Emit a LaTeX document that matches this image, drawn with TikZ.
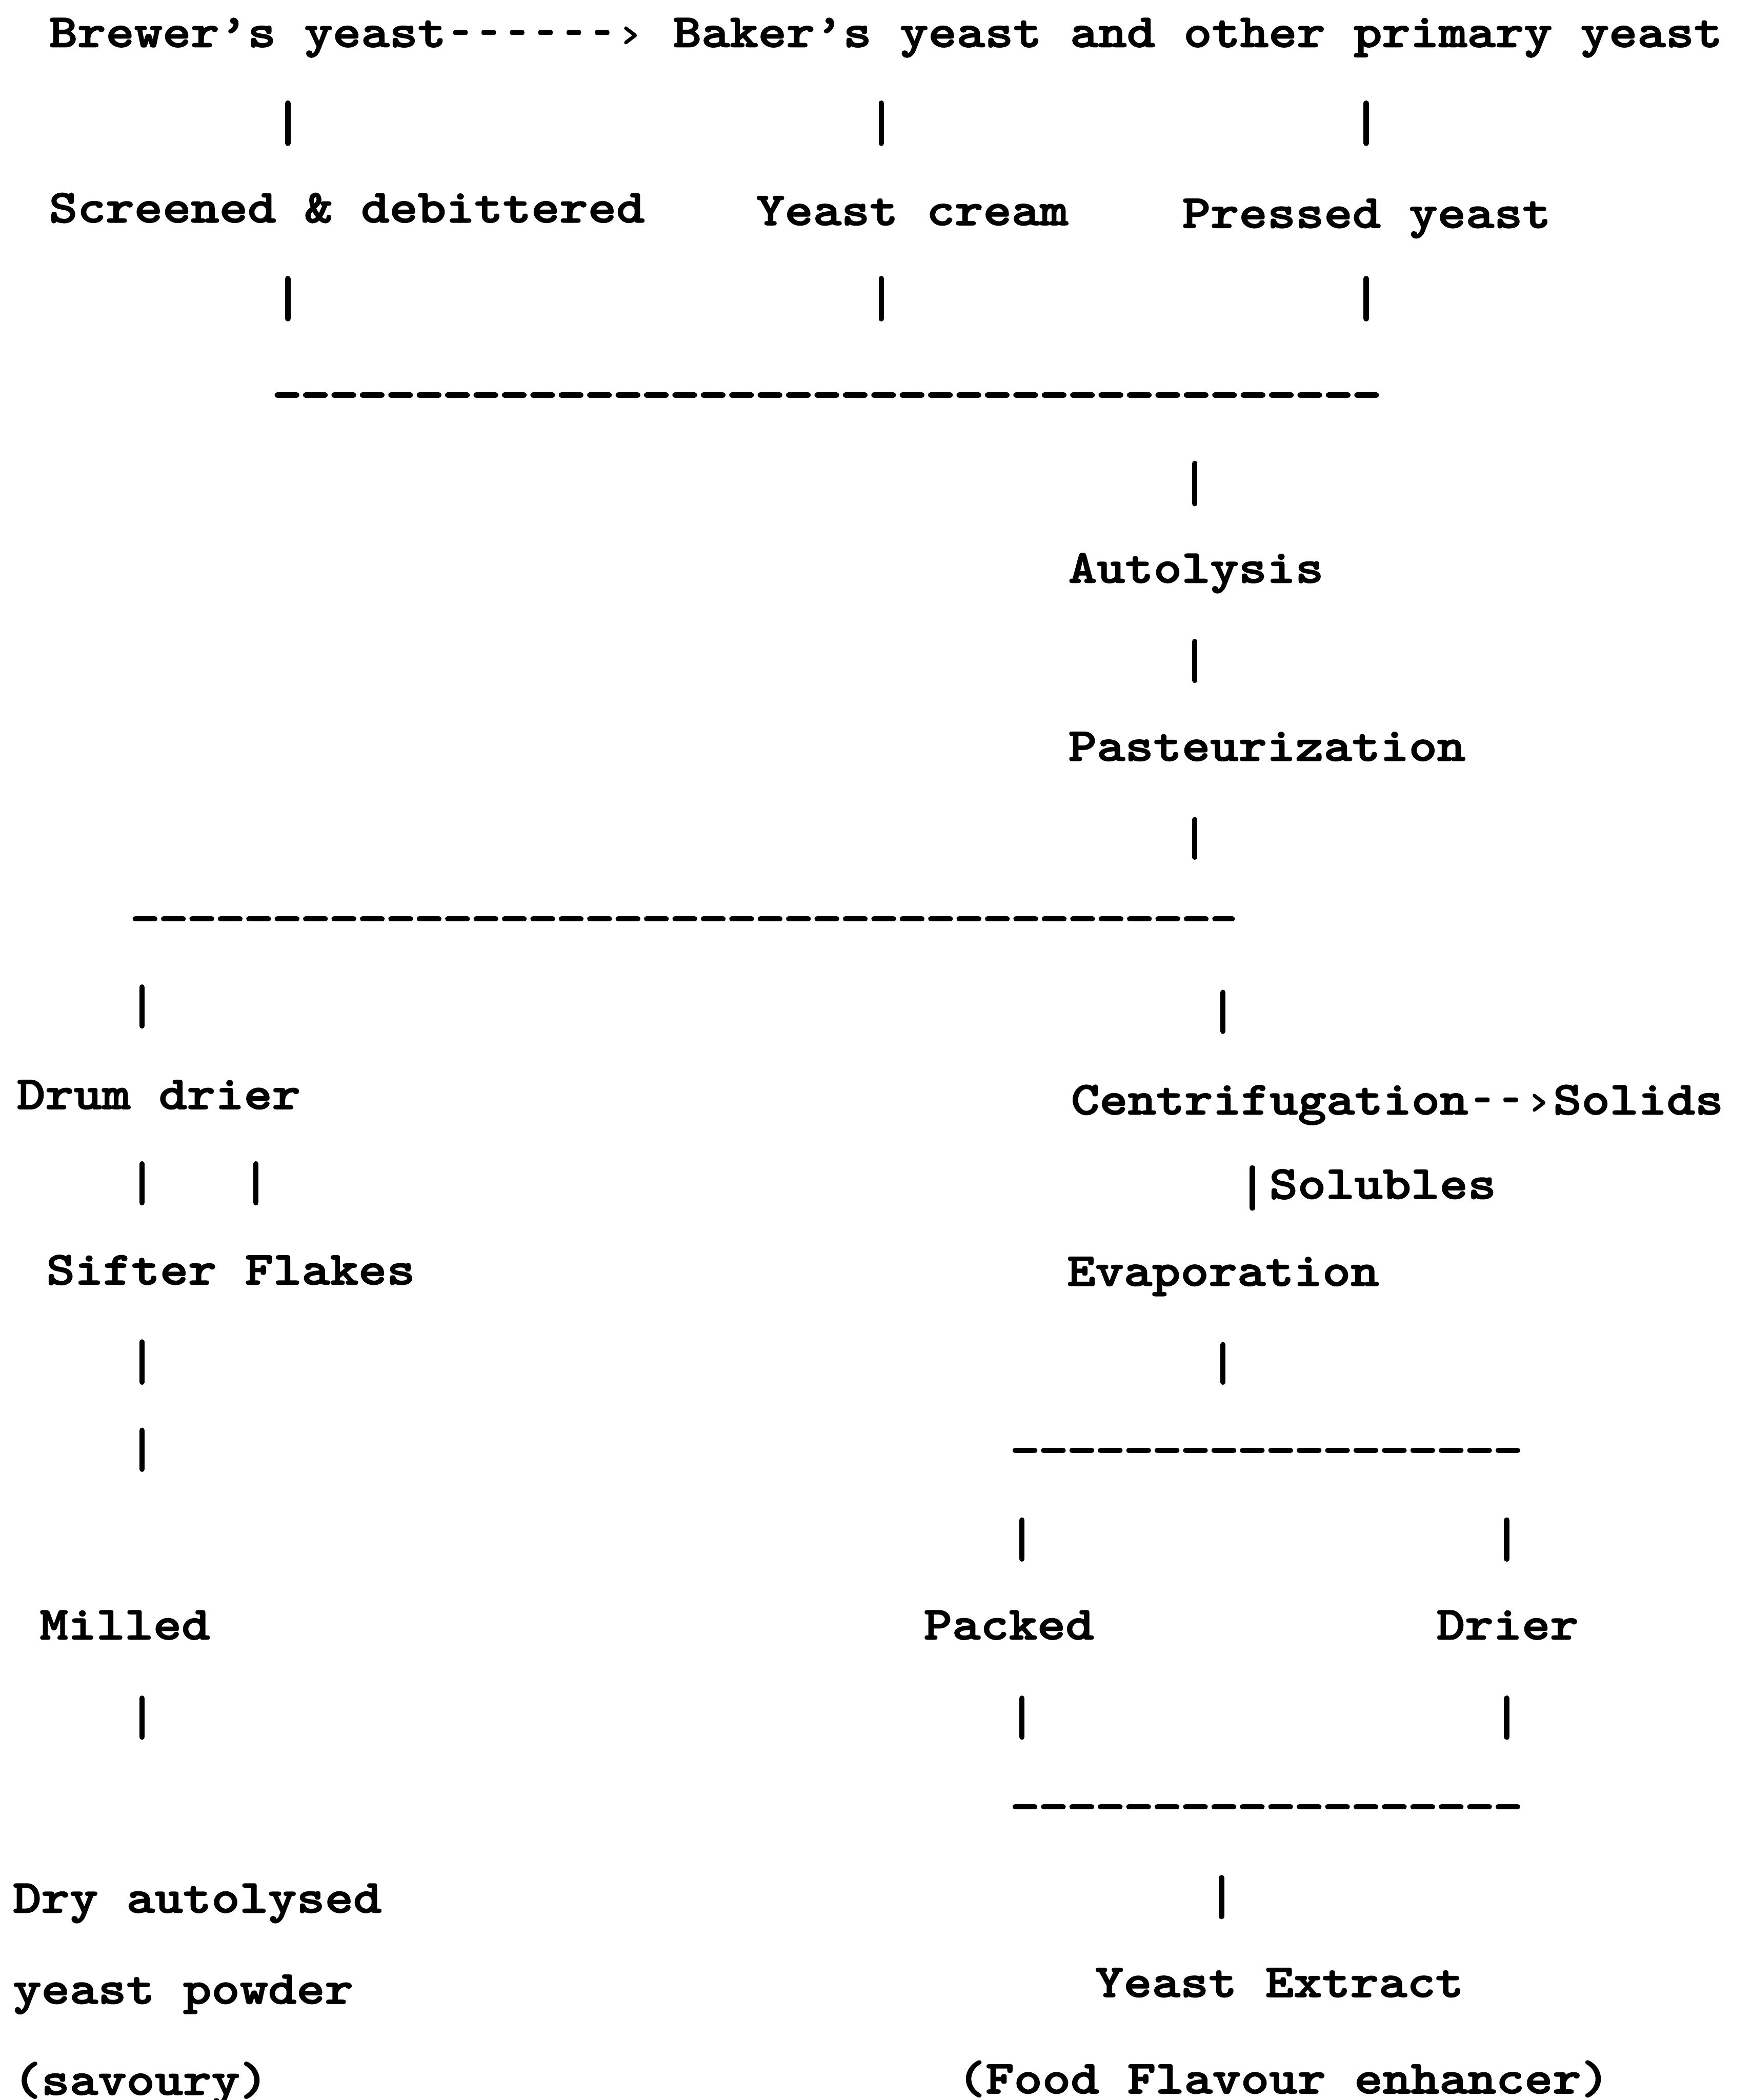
\documentclass[tikz,border=0pt]{standalone}
\usepackage{fontspec}
\newfontfamily\typefont[FakeStretch=1.147, FakeBold=2]{lmmonolt10-bold.otf}
\newcommand\hy{\makebox[6.02pt]{\scalebox{0.62}[1]{-}}}
\newcommand\tip{\makebox[6.02pt]{\scalebox{0.8}{›}}}

\tikzset{
    typed/.style={anchor=base west, inner sep=0pt,
        font=\typefont\fontsize{10}{12}\selectfont},
    vbar/.style={line width=1.15pt, line cap=round},
    hrule/.style={line width=1.15pt, line cap=round,
        dash pattern=on 0.145cm off 0.067cm},
}

\begin{document}
\begin{tikzpicture}[x=0.01cm, y=-0.01cm]
        \useasboundingbox (0, 0) rectangle (1308, 1568);

        % Top row:
        \node[typed] (brewer) at (36, 35) {Brewer’s yeast\hy\hy\hy\hy\hy\hy\tip{} Baker’s yeast and other primary yeast};

        % Yeast forms:
        \node[typed] (screened) at (36, 166) {Screened \& debittered};
        \node[typed] (cream) at (564, 168) {Yeast cream};
        \node[typed] (pressed) at (882, 170) {Pressed yeast};

        % Main line:
        \node[typed] (autolysis) at (797, 435) {Autolysis};
        \node[typed] (pasteur) at (797, 568) {Pasteurization};

        % Left branch:
        \node[typed] (drum) at (12, 828) {Drum drier};
        \node[typed] (sifter) at (34, 959) {Sifter Flakes};
        \node[typed] (milled) at (29, 1224) {Milled};
        \node[typed] (dry) at (9, 1428) {Dry autolysed};
        \node[typed] (powder) at (9, 1496) {yeast powder};
        \node[typed] (savoury) at (9, 1564) {(savoury)};

        % Right branch:
        \node[typed] (centri) at (799, 832) {Centrifugation\hy\hy\tip Solids};
        \node[typed] (solubles) at (947, 895) {Solubles};
        \node[typed] (evap) at (796, 960) {Evaporation};
        \node[typed] (packed) at (689, 1224) {Packed};
        \node[typed] (drier) at (1072, 1224) {Drier};
        \node[typed] (extract) at (817, 1491) {Yeast Extract};
        \node[typed] (enhancer) at (714, 1563) {(Food Flavour enhancer)};

        % Bars:
        \foreach \x/\a/\b [count=\i] in {215/77/107, 658/77/107, 1020/77/107,
                215/208/238, 658/208/238, 1020/208/238,
                892/346/376, 892/479/508, 892/612/640,
                106/737/766, 913/741/770, 106/869/898, 191/869/898, 935/872/902,
                106/1002/1032, 913/1004/1032, 106/1068/1097,
                763/1135/1164, 1125/1135/1164,
                106/1268/1297, 763/1268/1297, 1125/1268/1297, 912/1402/1431} {
            \coordinate (bt\i) at (\x, \a);
            \coordinate (bb\i) at (\x, \b);
            \draw[vbar] (bt\i) -- (bb\i);
        }

        % Dashed rules:
        \foreach \l/\r/\y [count=\i] in {207/1028/295, 101/920/686,
                758/1133/1083, 758/1133/1349} {
            \coordinate (rl\i) at (\l, \y);
            \coordinate (rr\i) at (\r, \y);
            \draw[hrule] (rl\i) -- (rr\i);
        }
    \end{tikzpicture}
\end{document}
